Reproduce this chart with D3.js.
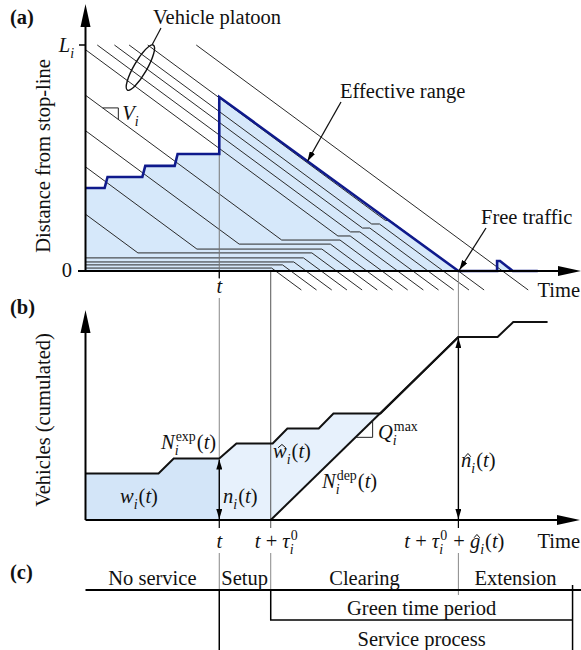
<!DOCTYPE html>
<html>
<head>
<meta charset="utf-8">
<script src="https://cdn.jsdelivr.net/npm/d3@7"></script>
<style>
  body { margin: 0; background: #fff; }
</style>
</head>
<body>
<svg id="chart" width="581" height="650" font-family="'Liberation Serif', 'DejaVu Serif', serif"></svg>
<script>
// ---- data (time in s, distance in m with L_i = 100, vehicles cumulated) ----
const speed = 1.6;                         // V_i
const tNow = 27.3, tau0 = 10.5, gHat = 38.3;
const serviceEnd = 99.4;

// effective range (blue line in panel a)
const effRange = [[0, 36.7], [3.9, 36.7], [4.5, 41.6], [11.6, 41.6], [12.2, 46.5], [18.2, 46.5],
  [18.8, 51.8], [27.3, 51.8], [27.3, 77.0], [76.1, 0], [84.0, 0], [84.0, 4.4], [84.6, 4.4],
  [87.2, 0], [92.3, 0]];

// vehicles: free-flow arrival at stop-line, queue position, time they cross the stop-line
const freeArrival = [null, null, null, null, 15.7, 28.8, 38.8, 48.6, 61.2, 64.9, 68.4, 71.4, 75.2, 85.1];
const queuePos    = [1.3, 2.7, 4.0, 5.8, 8.0, 9.7, 11.9, 13.7, 15.5, 17.3, 19.0, 20.8, 22.4, null];
const crossTime   = [38.8, 41.9, 45.0, 48.1, 51.2, 54.3, 57.4, 60.5, 63.7, 66.8, 69.9, 73.0, 76.1, 85.1];

// panel b: cumulated arrivals and departures
const arrivalsCum = [[0, 3.1], [14.9, 3.1], [18.0, 4.1], [27.3, 4.1], [30.8, 5.1], [38.2, 5.1],
  [41.2, 6.1], [47.6, 6.1], [50.6, 7.1], [60.2, 7.1], [76.1, 12.2], [84.1, 12.2], [87.3, 13.2], [94.3, 13.2]];
const departuresCum = [[37.8, 0], [76.1, 12.2]];

// panel c
const phases = [
  { label: "No service", from: 0, to: tNow },
  { label: "Setup", from: tNow, to: tNow + tau0 },
  { label: "Clearing", from: tNow + tau0, to: tNow + tau0 + gHat },
  { label: "Extension", from: tNow + tau0 + gHat, to: serviceEnd }
];

// ---- setup ----
const svg = d3.select("#chart");
const fs = 20.5;
const font = "'Liberation Serif', 'DejaVu Serif', serif";
const x = d3.scaleLinear().domain([0, 100]).range([85.5, 575.5]);
const ya = d3.scaleLinear().domain([0, 100]).range([271, 45]);
const yb = d3.scaleLinear().domain([0, 14]).range([520, 310]);

const defs = svg.append("defs");
defs.append("marker").attr("id", "arr")
  .attr("viewBox", "0 0 10 6").attr("refX", 10).attr("refY", 3)
  .attr("markerWidth", 10).attr("markerHeight", 6).attr("markerUnits", "userSpaceOnUse")
  .attr("orient", "auto-start-reverse")
  .append("path").attr("d", "M0,0L10,3L0,6Z").attr("fill", "#000");

function txt(parent, px, py, s, size) {
  return parent.append("text").attr("x", px).attr("y", py)
    .attr("font-family", font).attr("font-size", size || fs).attr("fill", "#111").text(s);
}

function math(parent, px, py, tokens, anchor) {
  const g = parent.append("g");
  let cx = 0;
  tokens.forEach(tk => {
    if (tk.sub !== undefined || tk.sup !== undefined) {
      let w = 0;
      if (tk.sup) {
        const s = txt(g, cx + 1, -fs * 0.4, tk.sup, fs * 0.68);
        w = Math.max(w, s.node().getComputedTextLength() + 1);
      }
      if (tk.sub) {
        const s = txt(g, cx, fs * 0.27, tk.sub, fs * 0.68).attr("font-style", "italic");
        w = Math.max(w, s.node().getComputedTextLength());
      }
      cx += w + 1;
    } else {
      const s = txt(g, cx, 0, tk.s).attr("font-style", tk.it ? "italic" : "normal");
      const w = s.node().getComputedTextLength();
      if (tk.hat) {
        g.append("path")
          .attr("d", `M${cx + w * 0.3 + 1},${-fs * 0.5}L${cx + w * 0.58 + 1},${-fs * 0.66}L${cx + w * 0.86 + 1},${-fs * 0.5}`)
          .attr("fill", "none").attr("stroke", "#111").attr("stroke-width", 1);
      }
      cx += w;
    }
  });
  const ox = anchor === "middle" ? px - cx / 2 : anchor === "end" ? px - cx : px;
  g.attr("transform", `translate(${ox},${py})`);
  return g;
}
const ofT = [{ s: "(" }, { s: "t", it: 1 }, { s: ")" }];
const sp = "\u00a0+\u00a0";

function axisArrow(tx, ty, dir) {
  const L = 23, H = 5;
  const d = dir === "up"
    ? `M${tx},${ty}L${tx - H},${ty + L}L${tx + H},${ty + L}Z`
    : `M${tx},${ty}L${tx - L},${ty - H}L${tx - L},${ty + H}Z`;
  svg.append("path").attr("d", d).attr("fill", "#000");
}

// ================= panel (a) =================
const ga = svg.append("g");
ga.append("path").datum(effRange)
  .attr("d", d3.area().x(d => x(d[0])).y0(ya(0)).y1(d => ya(d[1])))
  .attr("fill", "#d6e8fa");

// vehicle trajectories
const dEnd = -8.4;
const vehPaths = crossTime.map((c, k) => {
  const f = freeArrival[k], q = queuePos[k];
  const pts = [];
  if (f === null) pts.push([0, q]);
  else {
    const ts = Math.max(0, f - 100 / speed);
    pts.push([ts, speed * (f - ts)]);
    if (q !== null) pts.push([f - q / speed, q]);
  }
  if (q !== null) pts.push([c - q / speed, q]);
  pts.push([c - dEnd / speed, dEnd]);
  return pts;
});
ga.selectAll("path.veh").data(vehPaths).enter().append("path")
  .attr("class", "veh")
  .attr("d", d3.line().x(d => x(d[0])).y(d => ya(d[1])))
  .attr("fill", "none").attr("stroke", "#2a2a2a").attr("stroke-width", 1);

// guides inside panel a
ga.append("line").attr("x1", x(tNow)).attr("x2", x(tNow))
  .attr("y1", ya(51.8)).attr("y2", 279).attr("stroke", "#777").attr("stroke-width", 1);
ga.append("line").attr("x1", x(tNow + tau0)).attr("x2", x(tNow + tau0))
  .attr("y1", ya(0)).attr("y2", 290).attr("stroke", "#555").attr("stroke-width", 1);
ga.append("line").attr("x1", x(tNow + tau0 + gHat)).attr("x2", x(tNow + tau0 + gHat))
  .attr("y1", ya(0)).attr("y2", 290).attr("stroke", "#888").attr("stroke-width", 1);

// V_i slope marker on one trajectory
const vk = 7, vT1 = 3.5, vT2 = 6.7;
const vD = T => speed * (freeArrival[vk] - T);
ga.append("path")
  .attr("d", `M${x(vT1)},${ya(vD(vT1))}H${x(vT2)}V${ya(vD(vT2))}`)
  .attr("fill", "none").attr("stroke", "#222").attr("stroke-width", 1);
math(ga, x(vT2) + 4, ya(vD(vT2)) + 1, [{ s: "V", it: 1 }, { sub: "i" }]);

// effective range line
ga.append("path").datum(effRange)
  .attr("d", d3.line().x(d => x(d[0])).y(d => ya(d[1])))
  .attr("fill", "none").attr("stroke", "#0f1a8c").attr("stroke-width", 2.6)
  .attr("stroke-linejoin", "miter");

// axes
ga.append("line").attr("x1", x(0)).attr("x2", x(0)).attr("y1", ya(0)).attr("y2", 22)
  .attr("stroke", "#000").attr("stroke-width", 2);
axisArrow(x(0), 4, "up");
ga.append("line").attr("x1", 78).attr("x2", 560).attr("y1", ya(0)).attr("y2", ya(0))
  .attr("stroke", "#000").attr("stroke-width", 2);
axisArrow(581, ya(0), "right");
ga.append("line").attr("x1", 79).attr("x2", x(0)).attr("y1", ya(100)).attr("y2", ya(100))
  .attr("stroke", "#000").attr("stroke-width", 1.5);
ga.append("line").attr("x1", x(tNow)).attr("x2", x(tNow)).attr("y1", ya(0)).attr("y2", 278)
  .attr("stroke", "#000").attr("stroke-width", 1.2);

// labels
txt(ga, 10, 24, "(a)").attr("font-weight", "bold");
math(ga, 75, ya(100) + 7, [{ s: "L", it: 1 }, { sub: "i" }], "end");
txt(ga, 72, ya(0) + 6, "0").attr("text-anchor", "end");
txt(ga, 0, 0, "Distance from stop-line").attr("transform", "translate(50,156) rotate(-90)")
  .attr("text-anchor", "middle");
math(ga, x(tNow), 293, [{ s: "t", it: 1 }], "middle");
txt(ga, 580, 297, "Time").attr("text-anchor", "end");

txt(ga, 153, 24, "Vehicle platoon");
ga.append("ellipse").attr("cx", x(11.2)).attr("cy", ya(90)).attr("rx", 26).attr("ry", 6.5)
  .attr("transform", `rotate(-60,${x(11.2)},${ya(90)})`)
  .attr("fill", "none").attr("stroke", "#111").attr("stroke-width", 1.4);
ga.append("line").attr("x1", 161).attr("y1", 28).attr("x2", 152).attr("y2", 45)
  .attr("stroke", "#111").attr("stroke-width", 1.2);

txt(ga, 340, 98, "Effective range");
const erT = 45.3;
const erD = speed * (effRange[9][0] - erT) * 0.985;
ga.append("line").attr("x1", 341).attr("y1", 102).attr("x2", x(erT)).attr("y2", ya(erD))
  .attr("stroke", "#111").attr("stroke-width", 1.3).attr("marker-end", "url(#arr)");
txt(ga, 481, 224, "Free traffic");
ga.append("line").attr("x1", 486).attr("y1", 228).attr("x2", x(effRange[9][0]) + 1).attr("y2", ya(0) - 1)
  .attr("stroke", "#111").attr("stroke-width", 1.3).attr("marker-end", "url(#arr)");

// ================= panel (b) =================
const gb = svg.append("g");
const tIdx = arrivalsCum.findIndex(d => d[0] === tNow);
const wPoly = [[0, 0]].concat(arrivalsCum.slice(0, tIdx + 1)).concat([[tNow, 0]]);
gb.append("path").datum(wPoly)
  .attr("d", d3.line().x(d => x(d[0])).y(d => yb(d[1])))
  .attr("fill", "#d3e5f8");
const jIdx = arrivalsCum.findIndex(d => d[0] === 60.2);
const hatPoly = [[tNow, 0]].concat(arrivalsCum.slice(tIdx, jIdx + 1)).concat([departuresCum[0]]);
gb.append("path").datum(hatPoly)
  .attr("d", d3.line().x(d => x(d[0])).y(d => yb(d[1])))
  .attr("fill", "#e7f1fc");

// guides
const gT = [tNow, tNow + tau0, tNow + tau0 + gHat];
gb.append("line").attr("x1", x(gT[0])).attr("x2", x(gT[0])).attr("y1", 298).attr("y2", yb(4.1))
  .attr("stroke", "#888").attr("stroke-width", 1);
gb.append("line").attr("x1", x(gT[1])).attr("x2", x(gT[1])).attr("y1", 290).attr("y2", 528)
  .attr("stroke", "#555").attr("stroke-width", 1);
gb.append("line").attr("x1", x(gT[2])).attr("x2", x(gT[2])).attr("y1", 290).attr("y2", yb(12.2))
  .attr("stroke", "#888").attr("stroke-width", 1);
[gT[0], gT[2]].forEach(T => gb.append("line").attr("x1", x(T)).attr("x2", x(T)).attr("y1", 520).attr("y2", 528)
  .attr("stroke", "#000").attr("stroke-width", 1.2));

gb.append("path").datum(arrivalsCum)
  .attr("d", d3.line().x(d => x(d[0])).y(d => yb(d[1])))
  .attr("fill", "none").attr("stroke", "#111").attr("stroke-width", 2);
gb.append("path").datum(departuresCum)
  .attr("d", d3.line().x(d => x(d[0])).y(d => yb(d[1])))
  .attr("fill", "none").attr("stroke", "#111").attr("stroke-width", 2);

// Q max marker
const qRate = (departuresCum[1][1] - departuresCum[0][1]) / (departuresCum[1][0] - departuresCum[0][0]);
const qT1 = 55.1, qT2 = 58.6;
gb.append("path")
  .attr("d", `M${x(qT1)},${yb(qRate * (qT1 - departuresCum[0][0]))}H${x(qT2)}V${yb(qRate * (qT2 - departuresCum[0][0]))}`)
  .attr("fill", "none").attr("stroke", "#222").attr("stroke-width", 1);

// double arrows n_i and n-hat
gb.append("line").attr("x1", x(gT[0])).attr("x2", x(gT[0])).attr("y1", yb(4.1) + 1).attr("y2", yb(0) - 1)
  .attr("stroke", "#000").attr("stroke-width", 1.4)
  .attr("marker-start", "url(#arr)").attr("marker-end", "url(#arr)");
gb.append("line").attr("x1", x(gT[2])).attr("x2", x(gT[2])).attr("y1", yb(12.2) + 1).attr("y2", yb(0) - 1)
  .attr("stroke", "#000").attr("stroke-width", 1.4)
  .attr("marker-start", "url(#arr)").attr("marker-end", "url(#arr)");

// axes
gb.append("line").attr("x1", x(0)).attr("x2", x(0)).attr("y1", yb(0)).attr("y2", 330)
  .attr("stroke", "#000").attr("stroke-width", 2);
axisArrow(x(0), 310, "up");
gb.append("line").attr("x1", x(0)).attr("x2", 560).attr("y1", yb(0)).attr("y2", yb(0))
  .attr("stroke", "#000").attr("stroke-width", 2);
axisArrow(580, yb(0), "right");

// labels
txt(gb, 10, 314, "(b)").attr("font-weight", "bold");
txt(gb, 0, 0, "Vehicles (cumulated)").attr("transform", "translate(50,420) rotate(-90)")
  .attr("text-anchor", "middle");
math(gb, 161, 449, [{ s: "N", it: 1 }, { sub: "i", sup: "exp" }].concat(ofT));
math(gb, 120, 503, [{ s: "w", it: 1 }, { sub: "i" }].concat(ofT));
math(gb, 223, 503, [{ s: "n", it: 1 }, { sub: "i" }].concat(ofT));
math(gb, 273, 458, [{ s: "w", it: 1, hat: 1 }, { sub: "i" }].concat(ofT));
math(gb, 378, 439, [{ s: "Q", it: 1 }, { sub: "i", sup: "max" }]);
math(gb, 322, 488, [{ s: "N", it: 1 }, { sub: "i", sup: "dep" }].concat(ofT));
math(gb, 461, 467, [{ s: "n", it: 1, hat: 1 }, { sub: "i" }].concat(ofT));
math(gb, x(gT[0]), 548, [{ s: "t", it: 1 }], "middle");
math(gb, x(gT[1]) + 6, 548, [{ s: "t", it: 1 }, { s: sp }, { s: "τ", it: 1 }, { sub: "i", sup: "0" }], "middle");
math(gb, x(gT[2]) - 4, 548, [{ s: "t", it: 1 }, { s: sp }, { s: "τ", it: 1 }, { sub: "i", sup: "0" },
  { s: sp }, { s: "g", it: 1, hat: 1 }, { sub: "i" }].concat(ofT), "middle");
txt(gb, 580, 548, "Time").attr("text-anchor", "end");

// ================= panel (c) =================
const gc = svg.append("g");
const axisY = 590, greenY = 620;
gT.forEach(T => gc.append("line").attr("x1", x(T)).attr("x2", x(T)).attr("y1", 553)
  .attr("y2", T === gT[2] ? axisY + 5 : axisY).attr("stroke", "#888").attr("stroke-width", 1));
gc.append("line").attr("x1", x(0)).attr("x2", 581).attr("y1", axisY).attr("y2", axisY)
  .attr("stroke", "#000").attr("stroke-width", 2);
gc.append("line").attr("x1", x(tNow)).attr("x2", x(tNow)).attr("y1", axisY).attr("y2", 650)
  .attr("stroke", "#000").attr("stroke-width", 1.5);
gc.append("path").attr("d", `M${x(tNow + tau0)},${axisY}V${greenY}H${x(serviceEnd)}`)
  .attr("fill", "none").attr("stroke", "#000").attr("stroke-width", 1.5);
gc.append("line").attr("x1", x(serviceEnd)).attr("x2", x(serviceEnd)).attr("y1", axisY - 5).attr("y2", 650)
  .attr("stroke", "#000").attr("stroke-width", 1.5);

gc.selectAll("text.phase").data(phases).enter().append("text")
  .attr("class", "phase")
  .attr("font-family", font).attr("font-size", fs).attr("fill", "#111")
  .attr("x", d => d.label === "Setup" ? x(d.from) + 2 : x((d.from + d.to) / 2))
  .attr("y", 585)
  .attr("text-anchor", d => d.label === "Setup" ? "start" : "middle")
  .text(d => d.label);
const labelT = (tNow + tau0 + serviceEnd) / 2;
txt(gc, x(labelT), 615, "Green time period").attr("text-anchor", "middle");
txt(gc, x(labelT), 646, "Service process").attr("text-anchor", "middle");
txt(gc, 10, 579, "(c)").attr("font-weight", "bold");
</script>
</body>
</html>
